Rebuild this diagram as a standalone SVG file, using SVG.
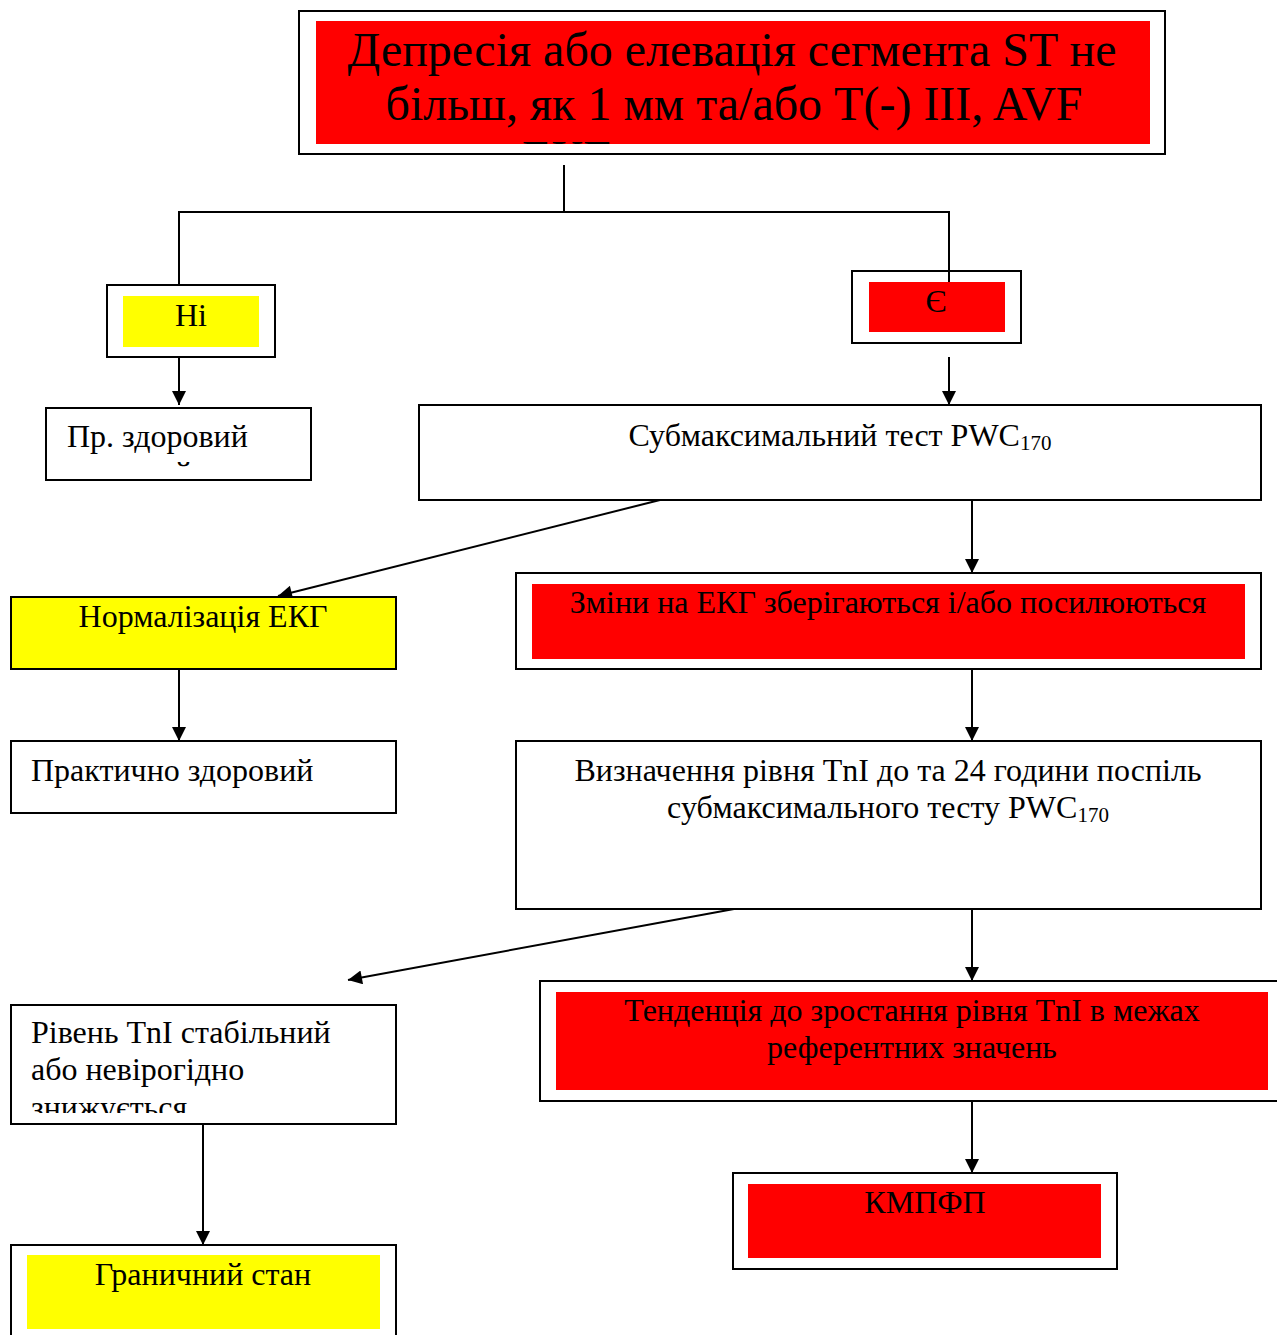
<svg xmlns="http://www.w3.org/2000/svg" width="1277" height="1335" viewBox="0 0 1277 1335">
<style>
.box{fill:#fff;stroke:#000;stroke-width:2}
.red{fill:#ff0000}
.yel{fill:#ffff00}
.t{font-family:"Liberation Serif","Times New Roman",serif;font-size:32px;fill:#000}
.c{text-anchor:middle}
.big{font-size:48px}
.ln{stroke:#000;stroke-width:2;fill:none}
.sub{font-size:21px}
</style>
<defs>
<marker id="ah" viewBox="0 0 10 10" refX="10" refY="5" markerWidth="16" markerHeight="14" markerUnits="userSpaceOnUse" orient="auto">
<path d="M0,0 L10,5 L0,10 z" fill="#000"/>
</marker>
<clipPath id="cTop"><rect x="316" y="21" width="834" height="123"/></clipPath>
<clipPath id="cPr"><rect x="47" y="409" width="263" height="60"/></clipPath>
<clipPath id="cRiv"><rect x="12" y="1006" width="383" height="107"/></clipPath>
</defs>
<rect width="1277" height="1335" fill="#fff"/>

<g id="connectors">
<polyline class="ln" points="564,165 564,212"/>
<polyline class="ln" points="179,285 179,212 949,212 949,282"/>
<line class="ln" x1="179" y1="357" x2="179" y2="405" marker-end="url(#ah)"/>
<line class="ln" x1="949" y1="357" x2="949" y2="405" marker-end="url(#ah)"/>
<line class="ln" x1="660" y1="500" x2="278" y2="596" marker-end="url(#ah)"/>
<line class="ln" x1="972" y1="500" x2="972" y2="573" marker-end="url(#ah)"/>
<line class="ln" x1="179" y1="669" x2="179" y2="741" marker-end="url(#ah)"/>
<line class="ln" x1="972" y1="669" x2="972" y2="741" marker-end="url(#ah)"/>
<line class="ln" x1="734" y1="909" x2="348" y2="980" marker-end="url(#ah)"/>
<line class="ln" x1="972" y1="909" x2="972" y2="981" marker-end="url(#ah)"/>
<line class="ln" x1="972" y1="1101" x2="972" y2="1173" marker-end="url(#ah)"/>
<line class="ln" x1="203" y1="1124" x2="203" y2="1245" marker-end="url(#ah)"/>
</g>

<g id="n-top">
<rect class="box" x="299" y="11" width="866" height="143"/>
<rect class="red" x="316" y="21" width="834" height="123"/>
<g clip-path="url(#cTop)">
<text class="t c big" x="732" y="66">Депресія або елевація сегмента ST не</text>
<text class="t c big" x="734" y="120">більш, як 1 мм та/або Т(-) III, AVF</text>
<text class="t big" x="522" y="174">ЕКГ</text>
</g>
</g>

<g id="n-ni">
<rect class="box" x="107" y="285" width="168" height="72"/>
<rect class="yel" x="123" y="296" width="136" height="51"/>
<text class="t c" x="191" y="326">Ні</text>
</g>

<g id="n-ye">
<rect class="box" x="852" y="271" width="169" height="72"/>
<rect class="red" x="869" y="282" width="136" height="50"/>
<line class="ln" x1="949" y1="271" x2="949" y2="282"/>
<text class="t c" x="936" y="312">Є</text>
</g>

<g id="n-pr">
<rect class="box" x="46" y="408" width="265" height="72"/>
<g clip-path="url(#cPr)">
<text class="t" x="67" y="447">Пр. здоровий</text>
<text class="t" x="175" y="484">й</text>
</g>
</g>

<g id="n-sub">
<rect class="box" x="419" y="405" width="842" height="95"/>
<text class="t c" x="840" y="446">Субмаксимальний тест PWC<tspan class="sub" dy="4">170</tspan></text>
</g>

<g id="n-norm">
<rect x="11" y="597" width="385" height="72" fill="#ffff00" stroke="#000" stroke-width="2"/>
<text class="t c" x="203" y="627">Нормалізація ЕКГ</text>
</g>

<g id="n-zminy">
<rect class="box" x="516" y="573" width="745" height="96"/>
<rect class="red" x="532" y="584" width="713" height="75"/>
<text class="t c" x="888" y="613">Зміни на ЕКГ зберігаються і/або посилюються</text>
</g>

<g id="n-prakt">
<rect class="box" x="11" y="741" width="385" height="72"/>
<text class="t" x="31" y="781">Практично здоровий</text>
</g>

<g id="n-vyzn">
<rect class="box" x="516" y="741" width="745" height="168"/>
<text class="t c" x="888" y="781">Визначення рівня TnI до та 24 години поспіль</text>
<text class="t c" x="888" y="818">субмаксимального тесту PWC<tspan class="sub" dy="4">170</tspan></text>
</g>

<g id="n-riv">
<rect class="box" x="11" y="1005" width="385" height="119"/>
<g clip-path="url(#cRiv)">
<text class="t" x="31" y="1043">Рівень TnI стабільний</text>
<text class="t" x="31" y="1080">або невірогідно</text>
<text class="t" x="31" y="1118">знижується</text>
</g>
</g>

<g id="n-tend">
<rect class="box" x="540" y="981" width="740" height="120"/>
<rect class="red" x="556" y="992" width="712" height="98"/>
<text class="t c" x="912" y="1021">Тенденція до зростання рівня TnI в межах</text>
<text class="t c" x="912" y="1058">референтних значень</text>
</g>

<g id="n-kmpfp">
<rect class="box" x="733" y="1173" width="384" height="96"/>
<rect class="red" x="748" y="1184" width="353" height="74"/>
<text class="t c" x="925" y="1213">КМПФП</text>
</g>

<g id="n-hran">
<rect class="box" x="11" y="1245" width="385" height="100"/>
<rect class="yel" x="27" y="1255" width="353" height="74"/>
<text class="t c" x="203" y="1285">Граничний стан</text>
</g>
</svg>
